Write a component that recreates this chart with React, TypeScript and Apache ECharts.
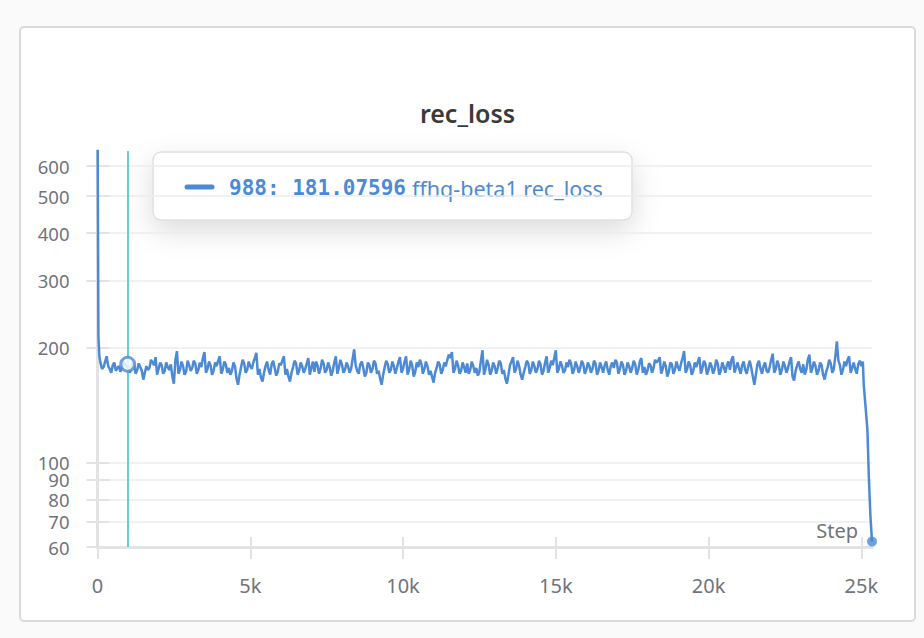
import React, { useEffect, useRef } from "react";
import * as echarts from "echarts";

const BLUE = "#4c8ad5";
const CYAN = "#6ccccc";
const AXIS_GRAY = "#e3e3e6";
const LABEL_GRAY = "#70737c";

// first few logged steps (steep initial drop)
const headSteps = [0, 30, 60];
const headValues = [900, 215, 190];

// logged every 100 steps from step 100 to 25000
const gridFirstStep = 100;
const gridStepSpacing = 100;
const lossValues = [
  182, 178, 190, 176, 180, 174, 179, 177, 181, 181,
  176, 180, 175, 178, 165, 179, 177, 183, 189, 176,
  180, 174, 178, 181, 161, 196, 175, 179, 173, 180,
  177, 182, 175, 178, 195, 176, 180, 174, 179, 190,
  175, 181, 177, 174, 179, 160, 178, 182, 175, 179,
  183, 194, 176, 163, 179, 175, 181, 177, 173, 180,
  190, 176, 163, 178, 182, 174, 179, 176, 188, 177,
  173, 180, 176, 182, 175, 178, 174, 190, 177, 181,
  175, 179, 176, 198, 174, 181, 177, 172, 180, 176,
  182, 174, 160, 178, 181, 175, 179, 177, 189, 176,
  190, 175, 180, 173, 178, 182, 176, 179, 174, 162,
  177, 181, 175, 179, 192, 195, 176, 180, 174, 178,
  182, 175, 179, 177, 173, 197, 176, 181, 174, 179,
  177, 182, 175, 161, 180, 189, 176, 179, 165, 178,
  182, 175, 179, 176, 181, 174, 190, 177, 180, 197,
  176, 180, 174, 178, 182, 175, 179, 177, 181, 175,
  179, 176, 182, 174, 178, 180, 175, 179, 177, 183,
  176, 180, 174, 179, 177, 181, 175, 188, 178, 174,
  180, 177, 183, 189, 176, 179, 173, 181, 175, 178,
  182, 196, 176, 180, 174, 178, 189, 177, 181, 175,
  179, 176, 182, 174, 178, 180, 175, 190, 178, 176,
  180, 175, 179, 177, 160, 181, 176, 179, 174, 178,
  193, 176, 180, 175, 179, 177, 189, 164, 180, 176,
  181, 175, 192, 177, 179, 174, 180, 165, 178, 182,
  176, 208, 180, 175, 179, 190, 177, 176, 181, 179,
];

// logged every 100 steps from step 150 to 24950 (between the above)
const midFirstStep = 150;
const midValues = [
  176, 184, 179, 172, 183, 177, 173, 184, 178, 172,
  183, 171, 182, 174, 172, 175, 186, 180, 170, 183,
  171, 183, 175, 168, 186, 171, 184, 170, 185, 174,
  185, 171, 183, 188, 172, 184, 170, 183, 185, 171,
  184, 172, 170, 183, 166, 170, 186, 172, 184, 176,
  188, 170, 167, 172, 184, 170, 185, 169, 182, 185,
  170, 168, 172, 185, 170, 183, 172, 182, 170, 184,
  184, 171, 186, 172, 183, 169, 183, 171, 186, 172,
  183, 172, 187, 180, 171, 184, 168, 183, 172, 185,
  171, 166, 170, 185, 172, 184, 171, 184, 172, 184,
  170, 185, 168, 183, 186, 171, 184, 170, 168, 172,
  184, 171, 183, 186, 188, 172, 185, 171, 183, 172,
  171, 184, 172, 169, 185, 170, 186, 170, 183, 171,
  185, 171, 166, 170, 184, 172, 185, 170, 172, 185,
  171, 184, 172, 185, 170, 183, 172, 185, 188, 172,
  184, 172, 183, 186, 171, 184, 172, 185, 171, 183,
  172, 185, 170, 183, 172, 184, 170, 183, 186, 171,
  184, 170, 183, 172, 185, 170, 184, 172, 170, 182,
  172, 186, 185, 171, 184, 168, 183, 171, 184, 174,
  188, 172, 184, 170, 183, 184, 171, 185, 170, 183,
  171, 186, 170, 183, 172, 184, 186, 172, 183, 171,
  184, 171, 185, 168, 170, 185, 171, 183, 172, 186,
  172, 185, 170, 184, 172, 184, 168, 174, 184, 172,
  170, 186, 172, 184, 170, 183, 170, 173, 186, 172,
  190, 185, 170, 184, 186, 172, 183, 171, 185,
];

// final steep drop
const tailSteps = [25050, 25080, 25200, 25250, 25300, 25350];
const tailValues = [184, 160, 122, 90, 72, 62];

const yTickValues = [60, 70, 80, 90, 100, 200, 300, 400, 500, 600];
const xTickValues = [0, 5000, 10000, 15000, 20000, 25000];
const X_MAX = 25350;
const Y_MIN = 60;
const Y_MAX = 657;

const hoverStep = 988;
const hoverValue = 181.07596;
const runName = "ffhq-beta1 rec_loss";
const chartTitle = "rec_loss";

export default function App() {
  const ref = useRef<HTMLDivElement>(null);

  useEffect(() => {
    document.body.style.margin = "0";
    if (!ref.current) return;
    const chart = echarts.init(ref.current, undefined, { renderer: "svg" });

    const body: number[][] = [];
    lossValues.forEach((v, i) => body.push([gridFirstStep + i * gridStepSpacing, v]));
    midValues.forEach((v, i) => body.push([midFirstStep + i * gridStepSpacing, v]));
    body.sort((a, b) => a[0] - b[0]);
    const data: number[][] = [];
    headSteps.forEach((s, i) => data.push([s, headValues[i]]));
    body.forEach((p) => data.push(p));
    tailSteps.forEach((s, i) => data.push([s, tailValues[i]]));
    const last = data[data.length - 1];

    const font = '"Noto Sans", sans-serif';

    chart.setOption({
      animation: false,
      backgroundColor: "transparent",
      grid: { left: 97.5, right: 52, top: 151, bottom: 91 },
      xAxis: [
        {
          type: "value",
          min: 0,
          max: X_MAX,
          axisLine: { lineStyle: { color: AXIS_GRAY, width: 3 } },
          axisTick: {
            show: true,
            length: 12,
            customValues: xTickValues,
            lineStyle: { color: AXIS_GRAY, width: 2 },
          },
          axisLabel: {
            customValues: xTickValues,
            margin: 28,
            color: LABEL_GRAY,
            fontSize: 20,
            fontFamily: font,
            formatter: (v: number) => (v === 0 ? "0" : v / 1000 + "k"),
          },
          splitLine: { show: false },
        },
        {
          type: "value",
          min: 0,
          max: X_MAX,
          position: "bottom",
          axisLine: { show: false },
          axisTick: {
            show: true,
            inside: true,
            length: 10,
            customValues: xTickValues,
            lineStyle: { color: AXIS_GRAY, width: 2 },
          },
          axisLabel: { show: false },
          splitLine: { show: false },
        },
      ],
      yAxis: [
        {
          type: "log",
          logBase: 10,
          min: Y_MIN,
          max: Y_MAX,
          axisLine: { show: true, lineStyle: { color: AXIS_GRAY, width: 3 } },
          axisTick: {
            show: true,
            length: 11,
            customValues: yTickValues,
            lineStyle: { color: AXIS_GRAY, width: 2 },
          },
          axisLabel: {
            customValues: yTickValues,
            margin: 28,
            color: LABEL_GRAY,
            fontSize: 18.5,
            lineHeight: 14,
            fontFamily: font,
            formatter: (v: number) => String(Math.round(v)),
          },
          splitLine: { show: true, lineStyle: { color: "#ececee", width: 1.5 } },
        },
        {
          type: "log",
          logBase: 10,
          min: Y_MIN,
          max: Y_MAX,
          position: "left",
          axisLine: { show: false },
          axisTick: {
            show: true,
            inside: true,
            length: 12,
            customValues: yTickValues,
            lineStyle: { color: AXIS_GRAY, width: 2 },
          },
          axisLabel: { show: false },
          splitLine: { show: false },
        },
      ],
      series: [
        {
          type: "line",
          data,
          showSymbol: false,
          symbol: "none",
          lineStyle: { color: BLUE, width: 2.5 },
          itemStyle: { color: BLUE },
          z: 3,
          markLine: {
            silent: true,
            symbol: ["none", "none"],
            label: { show: false },
            lineStyle: { color: CYAN, width: 2, type: "solid" },
            data: [{ xAxis: hoverStep }],
            z: 4,
          },
        },
        {
          type: "scatter",
          data: [[hoverStep, hoverValue]],
          symbol: "circle",
          symbolSize: 14,
          itemStyle: { color: "#ffffff", borderColor: BLUE, borderWidth: 3 },
          z: 6,
          clip: false,
          silent: true,
        },
        {
          type: "scatter",
          data: [last],
          symbol: "circle",
          symbolSize: 10,
          itemStyle: { color: BLUE },
          z: 6,
          clip: false,
          silent: true,
        },
      ],
      graphic: [
        {
          type: "text",
          x: 467.5,
          y: 113,
          style: {
            text: chartTitle,
            fill: "#3a3a3a",
            font: '600 25px "Noto Sans", sans-serif',
            textAlign: "center",
            textVerticalAlign: "middle",
            align: "center",
            verticalAlign: "middle",
          },
        },
        {
          type: "text",
          x: 858,
          y: 530,
          z: 50,
          style: {
            text: "Step",
            fill: LABEL_GRAY,
            font: '20px "Noto Sans", sans-serif',
            textAlign: "right",
            textVerticalAlign: "middle",
            align: "right",
            verticalAlign: "middle",
          },
        },
        {
          type: "group",
          z: 100,
          children: [
            {
              type: "rect",
              shape: { x: 153, y: 152, width: 479, height: 68, r: 8 },
              style: {
                fill: "#ffffff",
                stroke: "#dedfe2",
                lineWidth: 1.5,
                shadowBlur: 28,
                shadowColor: "rgba(0,0,0,0.14)",
                shadowOffsetY: 10,
              },
            },
            {
              type: "line",
              shape: { x1: 187, y1: 187, x2: 212, y2: 187 },
              style: { stroke: BLUE, lineWidth: 5, lineCap: "round" },
            },
            {
              type: "text",
              x: 229,
              y: 188,
              style: {
                text: hoverStep + ": " + hoverValue.toFixed(5),
                fill: BLUE,
                font: 'bold 21px "DejaVu Sans Mono", monospace',
                textAlign: "left",
                textVerticalAlign: "middle",
                align: "left",
                verticalAlign: "middle",
              },
            },
            {
              type: "text",
              x: 412,
              y: 188,
              style: {
                text: runName,
                fill: BLUE,
                font: '21.5px "Noto Sans", sans-serif',
                textAlign: "left",
                textVerticalAlign: "middle",
                align: "left",
                verticalAlign: "middle",
              },
            },
          ],
        },
      ],
    });

    return () => chart.dispose();
  }, []);

  return (
    <div style={{ position: "relative", width: 924, height: 638, background: "#fafafa", overflow: "hidden" }}>
      <div
        style={{
          position: "absolute",
          left: 19,
          top: 26,
          width: 897,
          height: 596,
          boxSizing: "border-box",
          border: "2px solid #d9dadd",
          borderRadius: 5,
          background: "#ffffff",
        }}
      />
      <div ref={ref} style={{ position: "absolute", left: 0, top: 0, width: 924, height: 638 }} />
    </div>
  );
}
